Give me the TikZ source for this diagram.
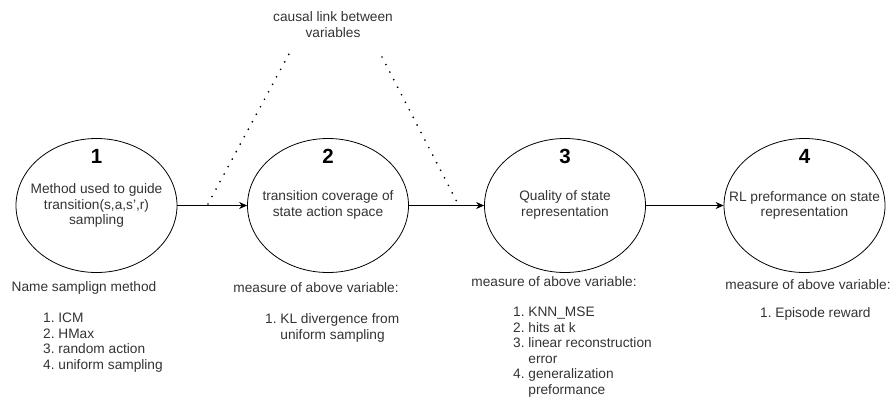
\documentclass[tikz,border=0pt]{standalone}
\usepackage{fontspec}
\setmainfont{Liberation Sans}
\usetikzlibrary{shapes.geometric,arrows.meta}
\begin{document}
\begin{tikzpicture}[x=1pt,y=-1pt,
 var/.style={draw=black, ellipse, minimum width=161pt, minimum height=134pt, inner sep=0pt, line width=0.8pt},
 num/.style={font=\fontsize{20.5}{20.5}\selectfont\bfseries, inner sep=0pt},
 txt/.style={font=\fontsize{13.7}{15.5}\selectfont, text=black!80, align=center, inner sep=0pt},
 lst/.style={font=\fontsize{13.7}{15.5}\selectfont, text=black!80, inner sep=0pt, anchor=base west},
 arr/.style={-{Stealth[length=8pt,width=7pt]}, line width=0.8pt},
 dots/.style={line width=1.9pt, dash pattern=on 0pt off 8.5pt, line cap=round}]
\useasboundingbox (0,0) rectangle (893,397);
% ellipses
\node[var] (e1) at (96.5,205.5) {};
\node[var] (e2) at (328,205.5) {};
\node[var] (e3) at (565,205.5) {};
\node[var] (e4) at (804.5,205.5) {};
% numbers
\node[num] (n1) at (96.5,156) {1};
\node[num] (n2) at (328,156) {2};
\node[num] (n3) at (565,156) {3};
\node[num] (n4) at (804.5,156) {4};
% inner texts
\node[txt] (t1) at (96.5,205.5) {Method used to guide\\transition(s,a,s',r)\\sampling};
\node[txt] (t2) at (328,205) {transition coverage of\\state action space};
\node[txt] (t3) at (565,205) {Quality of state\\representation};
\node[txt] (t4) at (804.5,205.5) {RL preformance on state\\representation};
% connectors
\draw[arr] (e1.east) -- (e2.west);
\draw[arr] (e2.east) -- (e3.west);
\draw[arr] (e3.east) -- (e4.west);
% causal label and dotted lines
\node[txt] (cl) at (333,24.5) {causal link between\\variables};
\coordinate (d1a) at (208,204);
\coordinate (d1b) at (290,52);
\coordinate (d2a) at (458,204);
\coordinate (d2b) at (382,57);
\draw[dots] (d1a) -- (d1b);
\draw[dots] (d2b) -- (d2a);
% bottom texts
\node[txt] (h1) at (84,288) {Name samplign method};
\node[lst] (l1) at (43,322.7) {\begin{tabular}[t]{@{}r@{\ }l@{}}1.&ICM\\2.&HMax\\3.&random action\\4.&uniform sampling\end{tabular}};
\node[txt] (h2) at (316,288) {measure of above variable:};
\node[lst] (l2) at (265,323.7) {\begin{tabular}[t]{@{}r@{\ }l@{}}1.&KL divergence from\\&uniform sampling\end{tabular}};
\node[txt] (h3) at (554,282) {measure of above variable:};
\node[lst] (l3) at (513,316.7) {\begin{tabular}[t]{@{}r@{\ }l@{}}1.&KNN\_MSE\\2.&hits at k\\3.&linear reconstruction\\&error\\4.&generalization\\&preformance\end{tabular}};
\node[txt] (h4) at (808,285) {measure of above variable:};
\node[lst] (l4) at (760,317.7) {\begin{tabular}[t]{@{}r@{\ }l@{}}1.&Episode reward\end{tabular}};
\end{tikzpicture}
\end{document}
